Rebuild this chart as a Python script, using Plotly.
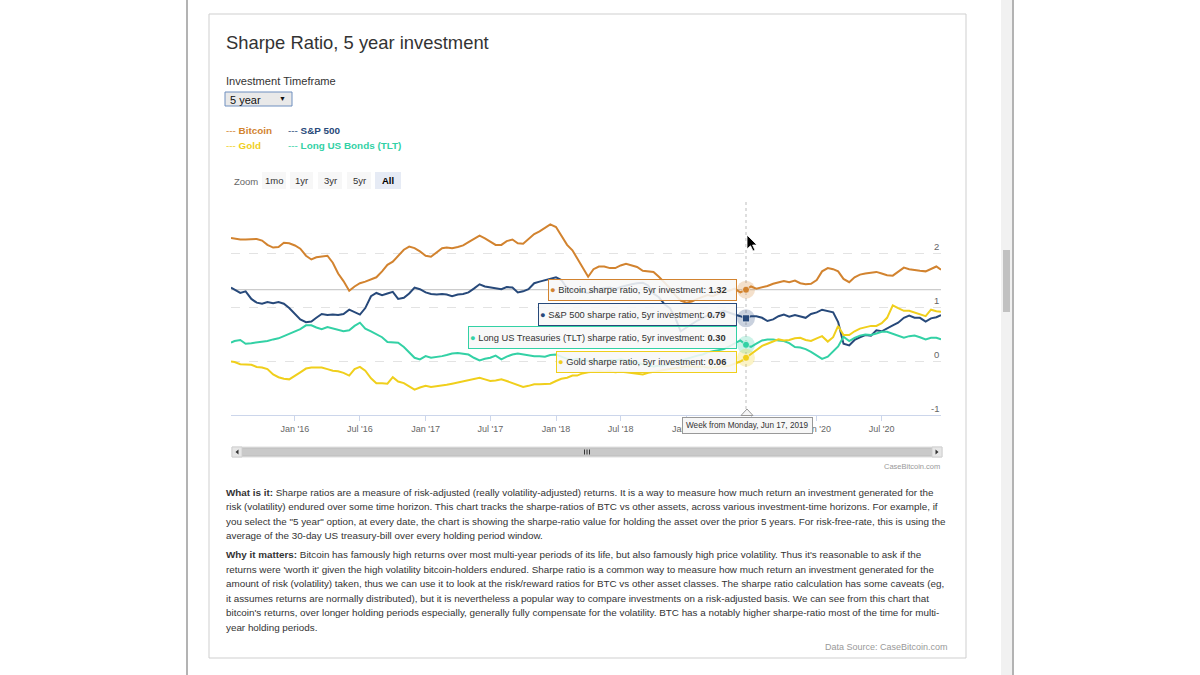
import plotly.graph_objects as go
import pandas as pd

# ---------------- data (semi-monthly samples) ----------------
months = pd.date_range("2015-07-01", "2020-12-01", freq="MS")
dates = []
for m in months:
    first = pd.Timestamp("2015-07-06") if m == pd.Timestamp("2015-07-01") else m
    second = m + pd.Timedelta(days=15)
    if m == pd.Timestamp("2019-06-01"):
        second = pd.Timestamp("2019-06-17")
    if m == pd.Timestamp("2020-12-01"):
        second = pd.Timestamp("2020-12-14")
    dates += [first, second]

bitcoin = [
    2.28, 2.27, 2.25, 2.25, 2.26, 2.26, 2.23, 2.15, 2.10, 2.11, 2.19, 2.18,
    2.14, 2.08, 1.95, 1.88, 1.92, 1.94, 1.95, 1.82, 1.62, 1.48, 1.30, 1.38,
    1.44, 1.47, 1.51, 1.55, 1.66, 1.78, 1.84, 1.94, 2.06, 2.12, 2.09, 2.03,
    1.95, 1.93, 2.02, 2.09, 2.10, 2.09, 2.11, 2.14, 2.20, 2.26, 2.32, 2.27,
    2.21, 2.15, 2.15, 2.22, 2.25, 2.18, 2.17, 2.26, 2.35, 2.40, 2.47, 2.53,
    2.48, 2.33, 2.15, 2.05, 1.90, 1.74, 1.56, 1.70, 1.75, 1.75, 1.72, 1.72,
    1.77, 1.80, 1.77, 1.74, 1.67, 1.66, 1.65, 1.56, 1.46, 1.35, 1.22, 1.12,
    1.08, 1.10, 1.15, 1.18, 1.22, 1.20, 1.25, 1.28, 1.30, 1.34, 1.27, 1.32,
    1.38, 1.34, 1.36, 1.39, 1.43, 1.45, 1.48, 1.46, 1.49, 1.44, 1.42, 1.43,
    1.50, 1.66, 1.72, 1.70, 1.66, 1.52, 1.46, 1.55, 1.60, 1.62, 1.64, 1.65,
    1.62, 1.59, 1.58, 1.66, 1.73, 1.70, 1.68, 1.67, 1.66, 1.70, 1.75, 1.69,
]
sp500 = [
    1.36, 1.32, 1.26, 1.29, 1.15, 1.08, 1.06, 1.09, 1.07, 1.09, 1.06, 0.98,
    0.88, 0.77, 0.72, 0.73, 0.80, 0.87, 0.85, 0.86, 0.85, 0.87, 0.95, 0.91,
    0.86, 0.98, 1.20, 1.26, 1.22, 1.25, 1.28, 1.15, 1.17, 1.25, 1.36, 1.33,
    1.27, 1.24, 1.23, 1.24, 1.23, 1.20, 1.23, 1.24, 1.27, 1.34, 1.42, 1.38,
    1.36, 1.34, 1.33, 1.37, 1.36, 1.27, 1.29, 1.33, 1.44, 1.47, 1.50, 1.52,
    1.55, 1.50, 1.35, 1.30, 1.33, 1.28, 1.26, 1.30, 1.33, 1.35, 1.36, 1.33,
    1.37, 1.40, 1.42, 1.44, 1.45, 1.40, 1.25, 1.18, 1.05, 0.98, 0.80, 0.55,
    0.62, 0.68, 0.75, 0.80, 0.84, 0.82, 0.90, 0.93, 0.89, 0.86, 0.83, 0.79,
    0.83, 0.83, 0.80, 0.74, 0.77, 0.83, 0.86, 0.82, 0.85, 0.83, 0.80, 0.87,
    0.90, 0.95, 0.93, 0.90, 0.72, 0.32, 0.29, 0.39, 0.44, 0.48, 0.47, 0.57,
    0.55, 0.61, 0.66, 0.71, 0.80, 0.84, 0.80, 0.80, 0.73, 0.79, 0.81, 0.85,
]
tlt = [
    0.34, 0.37, 0.39, 0.32, 0.33, 0.34, 0.35, 0.37, 0.40, 0.42, 0.46, 0.50,
    0.54, 0.59, 0.66, 0.66, 0.62, 0.59, 0.63, 0.60, 0.57, 0.55, 0.57, 0.65,
    0.71, 0.60, 0.55, 0.50, 0.44, 0.35, 0.34, 0.34, 0.26, 0.16, 0.06, 0.03,
    0.09, 0.06, 0.07, 0.09, 0.11, 0.14, 0.15, 0.14, 0.12, 0.06, 0.01, 0.04,
    0.06, 0.10, 0.03, 0.08, 0.12, 0.14, 0.12, 0.10, 0.09, 0.09, 0.08, 0.11,
    0.12, 0.08, 0.04, 0.02, 0.04, 0.02, 0.00, 0.01, -0.02, 0.00, 0.02, 0.01,
    0.03, 0.01, -0.01, -0.04, -0.06, -0.08, -0.10, -0.09, -0.08, -0.05, -0.02, 0.02,
    0.05, 0.08, 0.10, 0.12, 0.16, 0.18, 0.20, 0.22, 0.27, 0.33, 0.38, 0.30,
    0.26, 0.32, 0.38, 0.40, 0.40, 0.38, 0.37, 0.33, 0.26, 0.25, 0.22, 0.17,
    0.10, 0.04, 0.08, 0.18, 0.27, 0.45, 0.37, 0.43, 0.47, 0.49, 0.48, 0.51,
    0.54, 0.54, 0.50, 0.46, 0.43, 0.46, 0.47, 0.44, 0.40, 0.43, 0.43, 0.40,
]
gold = [
    -0.01, -0.02, -0.06, -0.06, -0.07, -0.11, -0.12, -0.15, -0.25, -0.30, -0.33, -0.34,
    -0.28, -0.21, -0.14, -0.12, -0.12, -0.12, -0.15, -0.18, -0.19, -0.22, -0.27, -0.15,
    -0.11, -0.18, -0.32, -0.41, -0.41, -0.42, -0.30, -0.38, -0.41, -0.47, -0.53, -0.49,
    -0.46, -0.48, -0.47, -0.46, -0.44, -0.42, -0.40, -0.38, -0.36, -0.33, -0.31, -0.34,
    -0.37, -0.36, -0.34, -0.37, -0.41, -0.45, -0.48, -0.46, -0.43, -0.43, -0.43, -0.42,
    -0.37, -0.33, -0.31, -0.27, -0.27, -0.23, -0.21, -0.20, -0.19, -0.20, -0.19, -0.21,
    -0.20, -0.21, -0.22, -0.24, -0.25, -0.22, -0.20, -0.19, -0.17, -0.15, -0.13, -0.12,
    -0.10, -0.10, -0.11, -0.10, -0.12, -0.12, -0.11, -0.10, -0.09, -0.05, -0.01, 0.06,
    0.13, 0.21, 0.28, 0.32, 0.36, 0.40, 0.38, 0.39, 0.42, 0.43, 0.39, 0.37,
    0.42, 0.46, 0.36, 0.44, 0.65, 0.48, 0.48, 0.55, 0.60, 0.62, 0.65, 0.65,
    0.70, 0.80, 1.03, 0.98, 0.93, 0.93, 0.90, 0.86, 0.83, 0.95, 0.92, 0.91,
]
assert len(dates) == len(bitcoin) == len(sp500) == len(tlt) == len(gold)

series_names = ["Bitcoin", "S&P 500", "Long US Treasuries (TLT)", "Gold"]
legend_names = ["Bitcoin", "S&P 500", "Gold", "Long US Bonds (TLT)"]
colors = {"Bitcoin": "#d2832f", "S&P 500": "#27497a",
          "Long US Treasuries (TLT)": "#33d1a5", "Gold": "#f0cf1c"}
legend_colors = {"Bitcoin": "#d2832f", "S&P 500": "#27497a",
                 "Gold": "#f0cf1c", "Long US Bonds (TLT)": "#33d1a5"}
values = {"Bitcoin": bitcoin, "S&P 500": sp500,
          "Long US Treasuries (TLT)": tlt, "Gold": gold}

x_tickvals = ["2016-01-01", "2016-07-01", "2017-01-01", "2017-07-01", "2018-01-01",
              "2018-07-01", "2019-01-01", "2019-07-01", "2020-01-01", "2020-07-01"]
x_ticktext = ["Jan '16", "Jul '16", "Jan '17", "Jul '17", "Jan '18",
              "Jul '18", "Jan '19", "Jul '19", "Jan '20", "Jul '20"]
y_ticks = [-1, 0, 1, 2]
hover_date = pd.Timestamp("2019-06-17")

paragraph_lines = [
    "<b>What is it:</b> Sharpe ratios are a measure of risk-adjusted (really volatility-adjusted) returns. It is a way to measure how much return an investment generated for the",
    "risk (volatility) endured over some time horizon. This chart tracks the sharpe-ratios of BTC vs other assets, across various investment-time horizons. For example, if",
    "you select the \"5 year\" option, at every date, the chart is showing the sharpe-ratio value for holding the asset over the prior 5 years. For risk-free-rate, this is using the",
    "average of the 30-day US treasury-bill over every holding period window.",
    None,
    "<b>Why it matters:</b> Bitcoin has famously high returns over most multi-year periods of its life, but also famously high price volatility. Thus it's reasonable to ask if the",
    "returns were 'worth it' given the high volatility bitcoin-holders endured. Sharpe ratio is a common way to measure how much return an investment generated for the",
    "amount of risk (volatility) taken, thus we can use it to look at the risk/reward ratios for BTC vs other asset classes. The sharpe ratio calculation has some caveats (eg,",
    "it assumes returns are normally distributed), but it is nevertheless a popular way to compare investments on a risk-adjusted basis. We can see from this chart that",
    "bitcoin's returns, over longer holding periods especially, generally fully compensate for the volatility. BTC has a notably higher sharpe-ratio most of the time for multi-",
    "year holding periods.",
]
zoom_buttons = ["1mo", "1yr", "3yr", "5yr", "All"]

# ---------------- layout helpers (pixel -> paper) ----------------
L, R, T, B = 231, 941, 199, 415
def fx(x):
    return (x - L) / (R - L)
def fy(y):
    return (B - y) / (B - T)

SANS = "Liberation Sans, Arial, Helvetica, sans-serif"

fig = go.Figure()

for name in series_names:
    fig.add_trace(go.Scatter(x=dates, y=values[name], mode="lines", name=name,
                             line=dict(color=colors[name], width=2),
                             hoverinfo="skip", showlegend=False))

# hover markers with halos
hi = dates.index(hover_date)
for name in series_names:
    v = values[name][hi]
    sym = "square" if name == "S&P 500" else "circle"
    fig.add_trace(go.Scatter(x=[hover_date], y=[v], mode="markers", showlegend=False,
                             hoverinfo="skip",
                             marker=dict(size=18, color=colors[name], opacity=0.25,
                                         line=dict(width=0))))
    fig.add_trace(go.Scatter(x=[hover_date], y=[v], mode="markers", showlegend=False,
                             hoverinfo="skip",
                             marker=dict(size=7, color=colors[name], symbol=sym,
                                         line=dict(width=1, color="rgba(255,255,255,0.6)"))))

shapes = []
annotations = []

# page frame
shapes += [
    dict(type="line", xref="paper", yref="paper", x0=fx(187), x1=fx(187), y0=fy(0), y1=fy(675),
         line=dict(color="#9a9a9a", width=1.5), layer="below"),
    dict(type="line", xref="paper", yref="paper", x0=fx(1013), x1=fx(1013), y0=fy(0), y1=fy(675),
         line=dict(color="#9a9a9a", width=1.5), layer="below"),
    dict(type="rect", xref="paper", yref="paper", x0=fx(1001), x1=fx(1012), y0=fy(0), y1=fy(675),
         fillcolor="#f1f1f1", line=dict(width=0), layer="below"),
    dict(type="rect", xref="paper", yref="paper", x0=fx(1003), x1=fx(1010), y0=fy(250), y1=fy(312),
         fillcolor="#c1c1c1", line=dict(width=0), layer="below"),
    dict(type="rect", xref="paper", yref="paper", x0=fx(209), x1=fx(966), y0=fy(14), y1=fy(658),
         fillcolor="rgba(0,0,0,0)", line=dict(color="#cfcfcf", width=1), layer="below"),
]

# crosshairs
shapes.append(dict(type="line", xref="paper", yref="y", x0=0, x1=1,
                   y0=values["Bitcoin"][hi], y1=values["Bitcoin"][hi],
                   line=dict(color="#cccccc", width=1.2), layer="below"))
shapes.append(dict(type="line", xref="x", yref="paper", x0=hover_date, x1=hover_date,
                   y0=0, y1=1, line=dict(color="#bdbdbd", width=1, dash="dot"), layer="below"))

# title & controls
annotations.append(dict(text="Sharpe Ratio, 5 year investment", xref="paper", yref="paper",
                        x=fx(224), y=fy(42), xanchor="left", yanchor="middle", showarrow=False,
                        font=dict(family=SANS, size=18.4, color="#333333")))
annotations.append(dict(text="Investment Timeframe", xref="paper", yref="paper",
                        x=fx(224), y=fy(81), xanchor="left", yanchor="middle", showarrow=False,
                        font=dict(family=SANS, size=11.1, color="#333333")))
shapes.append(dict(type="rect", xref="paper", yref="paper", x0=fx(225), x1=fx(292), y0=fy(92), y1=fy(106),
                   fillcolor="#e9e9e9", line=dict(color="#6f8fbf", width=1)))
annotations.append(dict(text="5 year", xref="paper", yref="paper", x=fx(228), y=fy(99.5),
                        xanchor="left", yanchor="middle", showarrow=False,
                        font=dict(family=SANS, size=11, color="#111111")))
annotations.append(dict(text="▼", xref="paper", yref="paper", x=fx(288), y=fy(98.5),
                        xanchor="right", yanchor="middle", showarrow=False,
                        font=dict(family=SANS, size=7, color="#111111")))

# custom legend
leg_pos = [(224, 130), (286, 130), (224, 145), (286, 145)]
for nm, (lx, ly) in zip(legend_names, leg_pos):
    annotations.append(dict(text=f"--- <b>{nm}</b>", xref="paper", yref="paper", x=fx(lx), y=fy(ly),
                            xanchor="left", yanchor="middle", showarrow=False,
                            font=dict(family=SANS, size=9.9, color=legend_colors[nm])))

# zoom buttons
annotations.append(dict(text="Zoom", xref="paper", yref="paper", x=fx(232), y=fy(181),
                        xanchor="left", yanchor="middle", showarrow=False,
                        font=dict(family=SANS, size=9.5, color="#666666")))
btn_x = [(262, 286), (290, 313), (318, 342), (347, 371), (375, 401)]
for lab, (bx0, bx1) in zip(zoom_buttons, btn_x):
    sel = lab == "All"
    shapes.append(dict(type="rect", xref="paper", yref="paper", x0=fx(bx0), x1=fx(bx1),
                       y0=fy(172), y1=fy(189), fillcolor="#e6ebf5" if sel else "#f7f7f7",
                       line=dict(width=0)))
    annotations.append(dict(text=f"<b>{lab}</b>" if sel else lab, xref="paper", yref="paper",
                            x=fx((bx0 + bx1) / 2), y=fy(180.5), xanchor="center", yanchor="middle",
                            showarrow=False,
                            font=dict(family=SANS, size=9.5, color="#000000" if sel else "#333333")))

# y tick labels (right, inside, above grid line)
for t in y_ticks:
    annotations.append(dict(text=str(t), xref="paper", yref="y", x=1.0, y=t, xanchor="right",
                            yanchor="bottom", showarrow=False, yshift=-1,
                            font=dict(family=SANS, size=9.5, color="#666666")))

# tooltips
tip_boxes = {
    "Bitcoin": (548, 279, 301),
    "S&P 500": (538, 303, 326),
    "Long US Treasuries (TLT)": (468, 326, 349),
    "Gold": (556, 351, 373),
}
for name in series_names:
    bx0, by0, by1 = tip_boxes[name]
    v = values[name][hi]
    txt = (f"<span style='color:{colors[name]}'>●</span> {name} sharpe ratio, 5yr investment: "
           f"<b>{v:.2f}</b>")
    annotations.append(dict(text=txt, xref="paper", yref="paper", x=fx(737), y=fy((by0 + by1) / 2),
                            xanchor="right", yanchor="middle", showarrow=False, align="left",
                            width=737 - bx0 - 4, height=by1 - by0 - 4,
                            bgcolor="rgba(247,247,247,0.88)", bordercolor=colors[name],
                            borderwidth=1, borderpad=1,
                            font=dict(family=SANS, size=9.3, color="#333333")))

# date tooltip under axis
shapes.append(dict(type="path", xref="paper", yref="paper",
                   path=f"M{fx(741)},{fy(415.5)} L{fx(747)},{fy(409)} L{fx(753)},{fy(415.5)} Z",
                   fillcolor="#f7f7f7", line=dict(color="#999999", width=1)))
annotations.append(dict(text=f"Week from Monday, {hover_date.strftime('%b')} {hover_date.day}, {hover_date.year}",
                        xref="paper", yref="paper", x=fx(747.5), y=fy(425.5), xanchor="center",
                        yanchor="middle", showarrow=False,
                        bgcolor="rgba(247,247,247,1)", bordercolor="#999999", borderwidth=1,
                        borderpad=3, font=dict(family=SANS, size=8.2, color="#333333")))

# mouse cursor
cx, cy = 747, 235
arrow = [(0, 0), (0, 14), (3.5, 10.8), (6, 16), (8, 15.2), (5.6, 10), (10, 10)]
path = "M" + " L".join(f"{fx(cx + a)},{fy(cy + b)}" for a, b in arrow) + " Z"
shapes.append(dict(type="path", xref="paper", yref="paper", path=path,
                   fillcolor="#000000", line=dict(color="#ffffff", width=0.8)))

# scrollbar under chart
shapes += [
    dict(type="rect", xref="paper", yref="paper", x0=fx(232), x1=fx(942), y0=fy(447), y1=fy(457),
         fillcolor="#f2f2f2", line=dict(color="#e0e0e0", width=1)),
    dict(type="rect", xref="paper", yref="paper", x0=fx(242), x1=fx(932), y0=fy(448), y1=fy(456),
         fillcolor="#c9c9c9", line=dict(color="#bdbdbd", width=1)),
    dict(type="rect", xref="paper", yref="paper", x0=fx(232), x1=fx(242), y0=fy(447), y1=fy(457),
         fillcolor="#e6e6e6", line=dict(color="#d0d0d0", width=1)),
    dict(type="rect", xref="paper", yref="paper", x0=fx(932), x1=fx(942), y0=fy(447), y1=fy(457),
         fillcolor="#e6e6e6", line=dict(color="#d0d0d0", width=1)),
    dict(type="path", xref="paper", yref="paper",
         path=f"M{fx(238.5)},{fy(449.5)} L{fx(235.5)},{fy(452)} L{fx(238.5)},{fy(454.5)} Z",
         fillcolor="#333333", line=dict(width=0)),
    dict(type="path", xref="paper", yref="paper",
         path=f"M{fx(935.5)},{fy(449.5)} L{fx(938.5)},{fy(452)} L{fx(935.5)},{fy(454.5)} Z",
         fillcolor="#333333", line=dict(width=0)),
]
for gx in (584.5, 587, 589.5):
    shapes.append(dict(type="line", xref="paper", yref="paper", x0=fx(gx), x1=fx(gx),
                       y0=fy(449.5), y1=fy(454.5), line=dict(color="#333333", width=1)))
annotations.append(dict(text="CaseBitcoin.com", xref="paper", yref="paper", x=fx(942), y=fy(466),
                        xanchor="right", yanchor="middle", showarrow=False,
                        font=dict(family=SANS, size=7.5, color="#999999")))

# description paragraphs
line_y = 492
for ln in paragraph_lines:
    if ln is None:
        line_y += 4.5
        continue
    annotations.append(dict(text=ln, xref="paper", yref="paper", x=fx(224), y=fy(line_y),
                            xanchor="left", yanchor="middle", showarrow=False,
                            font=dict(family=SANS, size=9.85, color="#333333")))
    line_y += 14.5
annotations.append(dict(text="Data Source: CaseBitcoin.com", xref="paper", yref="paper",
                        x=fx(950), y=fy(647), xanchor="right", yanchor="middle", showarrow=False,
                        font=dict(family=SANS, size=9, color="#999999")))

fig.update_layout(
    width=1200, height=675, autosize=False,
    margin=dict(l=L, r=1200 - R, t=T, b=675 - B, pad=0),
    paper_bgcolor="#ffffff", plot_bgcolor="#ffffff",
    showlegend=False, shapes=shapes, annotations=annotations,
    xaxis=dict(type="date", range=[dates[0], dates[-1]], tickvals=x_tickvals, ticktext=x_ticktext,
               showgrid=False, showline=True, linecolor="#ccd6eb", linewidth=1,
               ticks="outside", ticklen=5, tickcolor="#ccd6eb",
               tickfont=dict(family=SANS, size=9, color="#666666"), zeroline=False),
    yaxis=dict(range=[-1, 3], tickvals=[0, 1, 2, 3], showticklabels=False, showgrid=True,
               gridcolor="#e3e3e3", griddash="dash", gridwidth=1, zeroline=False, showline=False),
    hovermode=False,
)

fig.write_html("out.html", config={"displayModeBar": False},
               post_script="document.body.style.margin='0px';document.body.style.overflow='hidden';")
